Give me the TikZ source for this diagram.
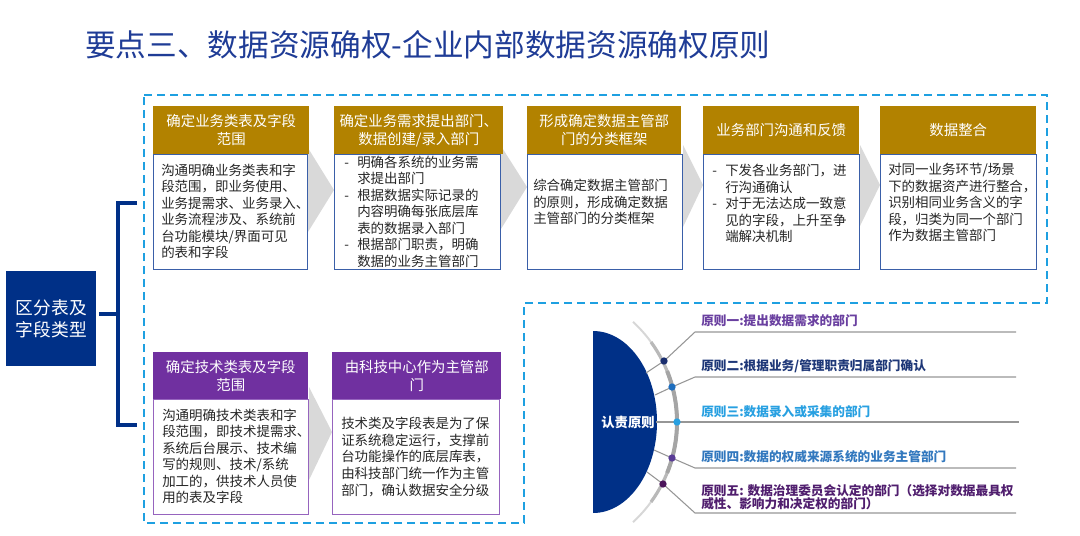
\documentclass[tikz,border=0pt]{standalone}
\usepackage{fontspec}
\setmainfont{Noto Sans CJK SC}
\usetikzlibrary{backgrounds}
\definecolor{titleblue}{RGB}{31,60,150}
\definecolor{navy}{RGB}{0,48,135}
\definecolor{gold}{RGB}{178,130,0}
\definecolor{purp}{RGB}{112,48,160}
\definecolor{bblue}{RGB}{58,95,168}
\definecolor{bpurp}{RGB}{150,100,190}
\definecolor{chevc}{RGB}{217,217,217}
\definecolor{txt}{RGB}{38,38,38}
\definecolor{framec}{RGB}{30,160,225}
\definecolor{gline}{RGB}{150,150,150}
\definecolor{arcl}{RGB}{215,215,215}
\definecolor{arcm}{RGB}{185,185,185}
\definecolor{arcd}{RGB}{165,165,165}
\definecolor{cA}{RGB}{106,64,160}
\definecolor{cB}{RGB}{31,56,120}
\definecolor{cC}{RGB}{40,160,225}
\definecolor{cD}{RGB}{50,120,190}
\definecolor{cE}{RGB}{80,30,110}
\definecolor{dA}{RGB}{25,45,110}
\definecolor{dB}{RGB}{30,110,190}
\definecolor{dC}{RGB}{40,160,225}
\definecolor{dD}{RGB}{90,60,150}
\definecolor{dE}{RGB}{75,20,90}
\newcommand\cbul{\makebox[9.75pt][l]{-}}
\newcommand\cind{\makebox[9.75pt]{}}
\begin{document}
\begin{tikzpicture}[x=0.75pt,y=-0.75pt,
  hdr/.style={rectangle, anchor=north west, inner sep=0pt, text=white, align=center,
    font=\fontsize{10.8}{13.5}\selectfont, minimum height=36pt},
  goldhdr/.style={hdr, fill=gold},
  purphdr/.style={hdr, fill=purp, minimum height=35.25pt},
  bodybox/.style={rectangle, anchor=north west, fill=white, draw, line width=0.75pt,
    minimum height=86.25pt, inner sep=0pt},
  bluebody/.style={bodybox, draw=bblue},
  purpbody/.style={bodybox, draw=bpurp},
  btxt/.style={anchor=west, inner sep=0pt, align=left, text=txt,
    font=\fontsize{10.1}{12.4}\selectfont},
  chevron/.style={fill=chevc},
  bracket/.style={draw=navy, line width=3pt},
  dashframe/.style={draw=framec, line width=1.5pt, dash pattern=on 6pt off 3.75pt},
  conn/.style={draw=gline, line width=0.8pt},
  dotnode/.style={circle, inner sep=0pt, minimum size=5.5pt},
  lab/.style={anchor=west, inner sep=0pt, align=left,
    font=\bfseries\fontsize{9.5}{9.8}\selectfont},
]
\useasboundingbox (0,0) rectangle (1080,535);

% title
\node[anchor=west, inner sep=0pt, text=titleblue, font=\fontsize{23}{27}\selectfont]
  (title) at (85,45) {要点三、数据资源确权-企业内部数据资源确权原则};

% left box
\node[anchor=north west, fill=navy, text=white, inner sep=0pt, align=center,
  minimum width=67.5pt, minimum height=71.25pt,
  font=\fontsize{13.3}{16.5}\selectfont] (lbox) at (6,271) {区分表及\\字段类型};

% bracket
\coordinate (bt) at (137,203);
\coordinate (bb) at (137,425);
\coordinate (sp) at (118,314);
\draw[bracket] (bt) -- (bt -| sp) -- (bb -| sp) -- (bb);
\draw[bracket] ([xshift=2pt]lbox.east |- sp) -- (sp);

% top row cards
\node[goldhdr, minimum width=117pt] (h1) at (153,106) {确定业务类表及字段\\范围};
\node[bluebody, minimum width=115.5pt] (b1) at (153,154) {};
\node[btxt] (t1) at (161,211.5) {沟通明确业务类表和字\\段范围，即业务使用、\\业务提需求、业务录入、\\业务流程涉及、系统前\\台功能模块/界面可见\\的表和字段};

\node[goldhdr, minimum width=126.75pt] (h2) at (334,106) {确定业务需求提出部门、\\数据创建/录入部门};
\node[bluebody, minimum width=124.5pt] (b2) at (334,154) {};
\node[btxt] (t2) at (344,211.5) {\cbul 明确各系统的业务需\\\cind 求提出部门\\\cbul 根据数据实际记录的\\\cind 内容明确每张底层库\\\cind 表的数据录入部门\\\cbul 根据部门职责，明确\\\cind 数据的业务主管部门};

\node[goldhdr, minimum width=115.5pt] (h3) at (527,106) {形成确定数据主管部\\门的分类框架};
\node[bluebody, minimum width=116.25pt] (b3) at (527,154) {};
\node[btxt] (t3) at (533,202) {综合确定数据主管部门\\的原则，形成确定数据\\主管部门的分类框架};

\node[goldhdr, minimum width=117pt] (h4) at (703,106) {业务部门沟通和反馈};
\node[bluebody, minimum width=117pt] (b4) at (703,154) {};
\node[btxt] (t4) at (712,203.5) {\cbul 下发各业务部门，进\\\cind 行沟通确认\\\cbul 对于无法达成一致意\\\cind 见的字段，上升至争\\\cind 端解决机制};

\node[goldhdr, minimum width=117pt] (h5) at (880,106) {数据整合};
\node[bluebody, minimum width=117pt] (b5) at (880,154) {};
\node[btxt] (t5) at (888,202.5) {对同一业务环节/场景\\下的数据资产进行整合，\\识别相同业务含义的字\\段，归类为同一个部门\\作为数据主管部门};

% bottom row cards
\node[purphdr, minimum width=116.25pt] (hA) at (153,352) {确定技术类表及字段\\范围};
\node[purpbody, minimum width=116.25pt] (bA) at (153,399) {};
\node[btxt] (tA) at (162,456.5) {沟通明确技术类表和字\\段范围，即技术提需求、\\系统后台展示、技术编\\写的规则、技术/系统\\加工的，供技术人员使\\用的表及字段};

\node[purphdr, minimum width=126.75pt] (hB) at (332,352) {由科技中心作为主管部\\门};
\node[purpbody, minimum width=125.25pt] (bB) at (332,399) {};
\node[btxt] (tB) at (341,457) {技术类及字段表是为了保\\证系统稳定运行，支撑前\\台功能操作的底层库表，\\由科技部门统一作为主管\\部门，确认数据安全分级};

\begin{scope}[on background layer]
  \draw[dashframe] (144,95) -- (1047,95) -- (1047,303) -- (524,303) -- (524,523) -- (144,523) -- cycle;
  \fill[chevron] (b1.east |- 0,148) -- (b2.west |- 0,190) -- (b1.east |- 0,232) -- cycle;
  \fill[chevron] (b2.east |- 0,146) -- (b3.west |- 0,187) -- (b2.east |- 0,229) -- cycle;
  \fill[chevron] (b3.east |- 0,145) -- (b4.west |- 0,185) -- (b3.east |- 0,227) -- cycle;
  \fill[chevron] (b4.east |- 0,145) -- (b5.west |- 0,185) -- (b4.east |- 0,226) -- cycle;
  \fill[chevron] (bA.east |- 0,387) -- (bB.west |- 0,432) -- (bA.east |- 0,480) -- cycle;
\end{scope}

% principles
\fill[navy] (593,331) arc[start angle=90, end angle=-90, x radius=48pt, y radius=68.25pt] -- cycle;
\node[text=white, inner sep=0pt, font=\bfseries\fontsize{10}{12}\selectfont] (core) at (628,422) {认责原则};

\coordinate (ac) at (541,422);
\draw[draw=arcl, line width=1.5pt] ([shift={(47.4:102pt)}]ac) arc[start angle=47.4, end angle=-47.4, radius=102pt];
\draw[draw=arcm, line width=2.4pt] ([shift={(36:102pt)}]ac) arc[start angle=36, end angle=-36, radius=102pt];
\draw[draw=arcd, line width=3pt] ([shift={(22:102pt)}]ac) arc[start angle=22, end angle=-22, radius=102pt];

\coordinate (e1) at (646,373); \coordinate (p1) at (664,361); \coordinate (k1) at (695,332); \coordinate (z1) at (1016,332);
\coordinate (e2) at (655,395); \coordinate (p2) at (672,387); \coordinate (k2) at (695,377); \coordinate (z2) at (1016,377);
\coordinate (e3) at (656,422); \coordinate (p3) at (677,422); \coordinate (z3) at (1019,422);
\coordinate (e4) at (654,450); \coordinate (p4) at (672,458); \coordinate (k4) at (695,468); \coordinate (z4) at (1016,468);
\coordinate (e5) at (647,472); \coordinate (p5) at (663,484); \coordinate (k5) at (695,513); \coordinate (z5) at (1016,513);

\draw[conn] (e1) -- (p1) -- (k1) -- (z1);
\draw[conn] (e2) -- (p2) -- (k2) -- (z2);
\draw[conn] (e3) -- (p3) -- (z3);
\draw[conn] (e4) -- (p4) -- (k4) -- (z4);
\draw[conn] (e5) -- (p5) -- (k5) -- (z5);

\node[dotnode, fill=dA] (d1) at (p1) {};
\node[dotnode, fill=dB] (d2) at (p2) {};
\node[dotnode, fill=dC] (d3) at (p3) {};
\node[dotnode, fill=dD] (d4) at (p4) {};
\node[dotnode, fill=dE] (d5) at (p5) {};

\node[lab, text=cA] (l1) at (701,321) {原则一:提出数据需求的部门};
\node[lab, text=cB] (l2) at (701,366) {原则二:根据业务/管理职责归属部门确认};
\node[lab, text=cC] (l3) at (701,412) {原则三:数据录入或采集的部门};
\node[lab, text=cD] (l4) at (701,457) {原则四:数据的权威来源系统的业务主管部门};
\node[lab, text=cE] (l5) at (701,497) {原则五: 数据治理委员会认定的部门（选择对数据最具权\\威性、影响力和决定权的部门）};
\end{tikzpicture}
\end{document}
